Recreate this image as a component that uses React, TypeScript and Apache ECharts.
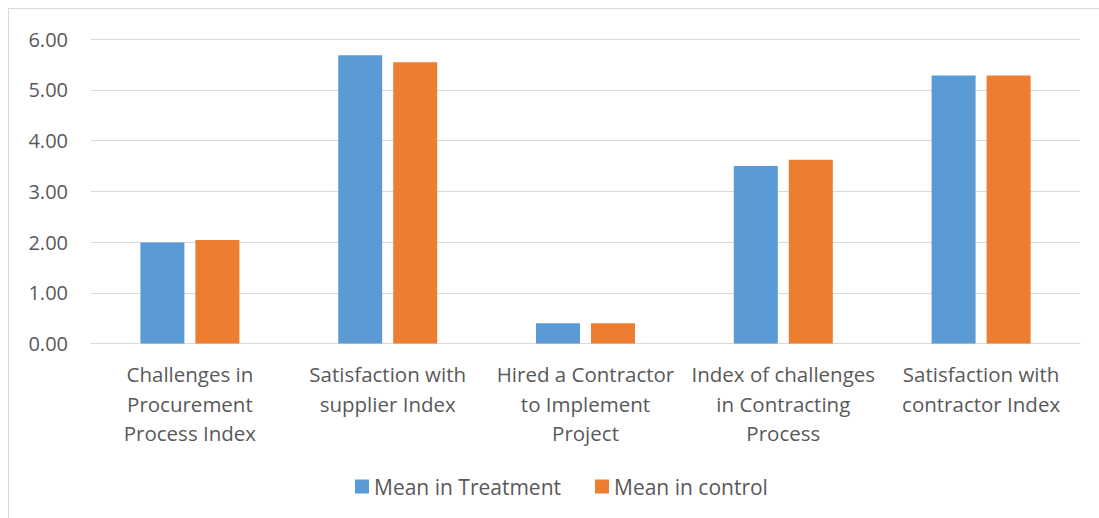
import React, { useEffect, useRef } from "react";
import * as echarts from "echarts";

const categories = [
  "Challenges in\nProcurement\nProcess Index",
  "Satisfaction with\nsupplier Index",
  "Hired a Contractor\nto Implement\nProject",
  "Index of challenges\nin Contracting\nProcess",
  "Satisfaction with\ncontractor Index",
];
const treatment = [1.99, 5.68, 0.4, 3.5, 5.28];
const control = [2.04, 5.54, 0.4, 3.62, 5.28];
const seriesNames = ["Mean in Treatment", "Mean in control"];

const FONT = "'Open Sans', sans-serif";
const TXT = "#595959";

export default function App() {
  const ref = useRef<HTMLDivElement>(null);
  useEffect(() => {
    if (!ref.current) return;
    const chart = echarts.init(ref.current, null, { renderer: "svg" });
    chart.setOption({
      animation: false,
      textStyle: { fontFamily: FONT },
      grid: { left: 82, top: 30, width: 989, height: 304.5, containLabel: false },
      legend: {
        left: 341,
        top: 462,
        itemWidth: 14,
        itemHeight: 14,
        itemGap: 34,
        icon: "rect",
        textStyle: { fontSize: 21, color: TXT, fontFamily: FONT },
        data: seriesNames,
      },
      xAxis: {
        type: "category",
        data: categories,
        axisLine: { lineStyle: { color: "#d9d9d9", width: 1 } },
        axisTick: { show: false },
        axisLabel: {
          interval: 0,
          margin: 16,
          fontSize: 20.5,
          lineHeight: 29.5,
          color: TXT,
          fontFamily: FONT,
          align: "center",
        },
      },
      yAxis: {
        type: "value",
        min: 0,
        max: 6,
        interval: 1,
        axisLine: { show: false },
        axisTick: { show: false },
        splitLine: { lineStyle: { color: "#d9d9d9", width: 1 } },
        axisLabel: {
          margin: 23,
          fontSize: 20,
          color: TXT,
          fontFamily: FONT,
          formatter: (v: number) => v.toFixed(2),
        },
      },
      series: [
        {
          name: seriesNames[0],
          type: "bar",
          data: treatment,
          barWidth: 44,
          barGap: "25%",
          itemStyle: { color: "#5B9BD5" },
        },
        {
          name: seriesNames[1],
          type: "bar",
          data: control,
          barWidth: 44,
          itemStyle: { color: "#ED7D31" },
        },
      ],
    });
    return () => chart.dispose();
  }, []);
  return (
    <div
      style={{
        position: "absolute",
        left: 8,
        top: 8,
        width: 1091,
        height: 510,
        boxSizing: "border-box",
        borderTop: "1px solid #d9d9d9",
        borderLeft: "1px solid #d9d9d9",
        background: "#fff",
      }}
    >
      <div ref={ref} style={{ width: 1090, height: 509 }} />
    </div>
  );
}
